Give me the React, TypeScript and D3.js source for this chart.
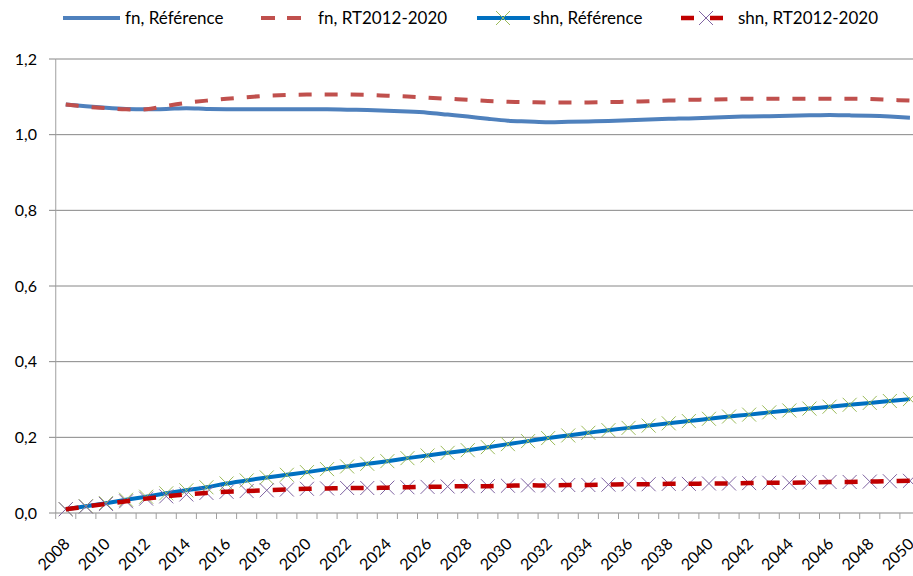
import * as d3 from "d3";

const years = d3.range(2008, 2051);

const fnReference = [
  1.08, 1.075, 1.071, 1.068, 1.067, 1.068, 1.07, 1.068, 1.067, 1.067, 1.067,
  1.067, 1.067, 1.067, 1.066, 1.065, 1.063, 1.061, 1.058, 1.053, 1.048, 1.042,
  1.037, 1.035, 1.033, 1.034, 1.035, 1.036, 1.038, 1.04, 1.042, 1.043, 1.045,
  1.047, 1.048, 1.049, 1.05, 1.051, 1.052, 1.051, 1.05, 1.048, 1.045,
];

const fnRT = [
  1.08, 1.074, 1.07, 1.067, 1.067, 1.076, 1.084, 1.09, 1.095, 1.099, 1.103,
  1.105, 1.106, 1.106, 1.106, 1.105, 1.103, 1.101, 1.098, 1.095, 1.092, 1.089,
  1.087, 1.086, 1.085, 1.085, 1.085, 1.086, 1.087, 1.088, 1.09, 1.092, 1.093,
  1.094, 1.095, 1.095, 1.095, 1.095, 1.095, 1.095, 1.094, 1.092, 1.09,
];

const shnReference = [
  0.01, 0.018, 0.026, 0.035, 0.043, 0.052, 0.06, 0.068, 0.078, 0.086, 0.094,
  0.101, 0.108, 0.116, 0.123, 0.13, 0.137, 0.145, 0.152, 0.159, 0.166, 0.174,
  0.182, 0.19, 0.198, 0.205, 0.212, 0.219, 0.225, 0.231, 0.237, 0.243, 0.249,
  0.255, 0.26, 0.266, 0.271, 0.276, 0.281, 0.286, 0.291, 0.296, 0.301,
];

const shnRT = [
  0.01, 0.017, 0.024, 0.031, 0.038, 0.044, 0.049, 0.053, 0.056, 0.058, 0.06,
  0.062, 0.064, 0.065, 0.066, 0.066, 0.067, 0.068, 0.069, 0.07, 0.071, 0.071,
  0.072, 0.073, 0.073, 0.074, 0.074, 0.075, 0.076, 0.076, 0.077, 0.077, 0.078,
  0.078, 0.079, 0.08, 0.08, 0.081, 0.082, 0.082, 0.083, 0.084, 0.085,
];

const yTicks = [0, 0.2, 0.4, 0.6, 0.8, 1.0, 1.2];

const W = 913;
const H = 576;
const FONT = "Lato, 'Liberation Sans', sans-serif";

const x = d3
  .scaleBand<number>()
  .domain(years)
  .range([55.7, 55.7 + years.length * 20.1]);
const y = d3.scaleLinear().domain([0, 1.2]).range([513, 59]);

const cx = (yr: number) => (x(yr) ?? 0) + x.bandwidth() / 2;

const line = d3
  .line<number>()
  .x((_, i) => cx(years[i]))
  .y((d) => y(d))
  .curve(d3.curveCatmullRom.alpha(0.5));

const fmt = (v: number) => v.toFixed(1).replace(".", ",");

function Cross({ px, py, color, r = 7 }: { px: number; py: number; color: string; r?: number }) {
  return (
    <path
      d={`M${px - r},${py - r}L${px + r},${py + r}M${px - r},${py + r}L${px + r},${py - r}`}
      stroke={color}
      strokeWidth={1}
      fill="none"
    />
  );
}

export default function App() {
  const legendY = 18;
  return (
    <svg
      width={W}
      height={H}
      style={{ position: "absolute", left: 0, top: 0, background: "#fff" }}
      fontFamily={FONT}
    >
      {/* gridlines */}
      {yTicks
        .filter((t) => t > 0)
        .map((t) => (
          <line key={t} x1={55.7} x2={W} y1={y(t)} y2={y(t)} stroke="#868686" strokeWidth={1} />
        ))}

      {/* y axis */}
      <line x1={55.7} x2={55.7} y1={y(1.2)} y2={y(0)} stroke="#b0b0b0" strokeWidth={1.2} />
      {yTicks.map((t) => (
        <g key={t}>
          <line x1={49} x2={55.7} y1={y(t)} y2={y(t)} stroke="#868686" />
          <text x={37} y={y(t)} dy="0.35em" textAnchor="end" fontSize={16} fill="#000">
            {fmt(t)}
          </text>
        </g>
      ))}

      {/* x axis */}
      <line x1={55.7} x2={W} y1={y(0)} y2={y(0)} stroke="#868686" strokeWidth={1.2} />
      {years.map((yr) => (
        <line
          key={yr}
          x1={x(yr) ?? 0}
          x2={x(yr) ?? 0}
          y1={y(0)}
          y2={y(0) + 6}
          stroke="#a0a0a0"
        />
      ))}
      {years
        .filter((yr) => (yr - 2008) % 2 === 0)
        .map((yr) => (
          <text
            key={yr}
            transform={`translate(${cx(yr) + 5},${545}) rotate(-45)`}
            textAnchor="end"
            fontSize={16}
            fill="#000"
          >
            {yr}
          </text>
        ))}

      {/* series */}
      <path d={line(fnReference) ?? ""} fill="none" stroke="#4F81BD" strokeWidth={4} />
      <path
        d={line(fnRT) ?? ""}
        fill="none"
        stroke="#C0504D"
        strokeWidth={4}
        strokeDasharray="13 13"
      />
      <path d={line(shnReference) ?? ""} fill="none" stroke="#0070C0" strokeWidth={4} />
      {shnReference.map((v, i) => (
        <Cross key={i} px={cx(years[i])} py={y(v)} color="#9BBB59" />
      ))}
      {shnRT.map((v, i) => (
        <Cross key={i} px={cx(years[i])} py={y(v)} color="#8064A2" />
      ))}
      <path
        d={line(shnRT) ?? ""}
        fill="none"
        stroke="#C00000"
        strokeWidth={4.5}
        strokeDasharray="13 13"
      />

      {/* legend */}
      <g fontSize={17} fill="#000">
        <line x1={63} x2={120} y1={legendY} y2={legendY} stroke="#4F81BD" strokeWidth={4} />
        <text x={125} y={legendY} dy="0.35em">fn, Référence</text>

        <line
          x1={261}
          x2={301}
          y1={legendY}
          y2={legendY}
          stroke="#C0504D"
          strokeWidth={4}
          strokeDasharray="14 12"
        />
        <text x={318} y={legendY} dy="0.35em">fn, RT2012-2020</text>

        <line x1={477} x2={530} y1={legendY} y2={legendY} stroke="#0070C0" strokeWidth={4} />
        <Cross px={503} py={legendY} color="#9BBB59" />
        <text x={533} y={legendY} dy="0.35em">shn, Référence</text>

        <line
          x1={681}
          x2={723}
          y1={legendY}
          y2={legendY}
          stroke="#C00000"
          strokeWidth={4.5}
          strokeDasharray="13 16"
        />
        <Cross px={706} py={legendY} color="#8064A2" />
        <text x={738} y={legendY} dy="0.35em">shn, RT2012-2020</text>
      </g>
    </svg>
  );
}
